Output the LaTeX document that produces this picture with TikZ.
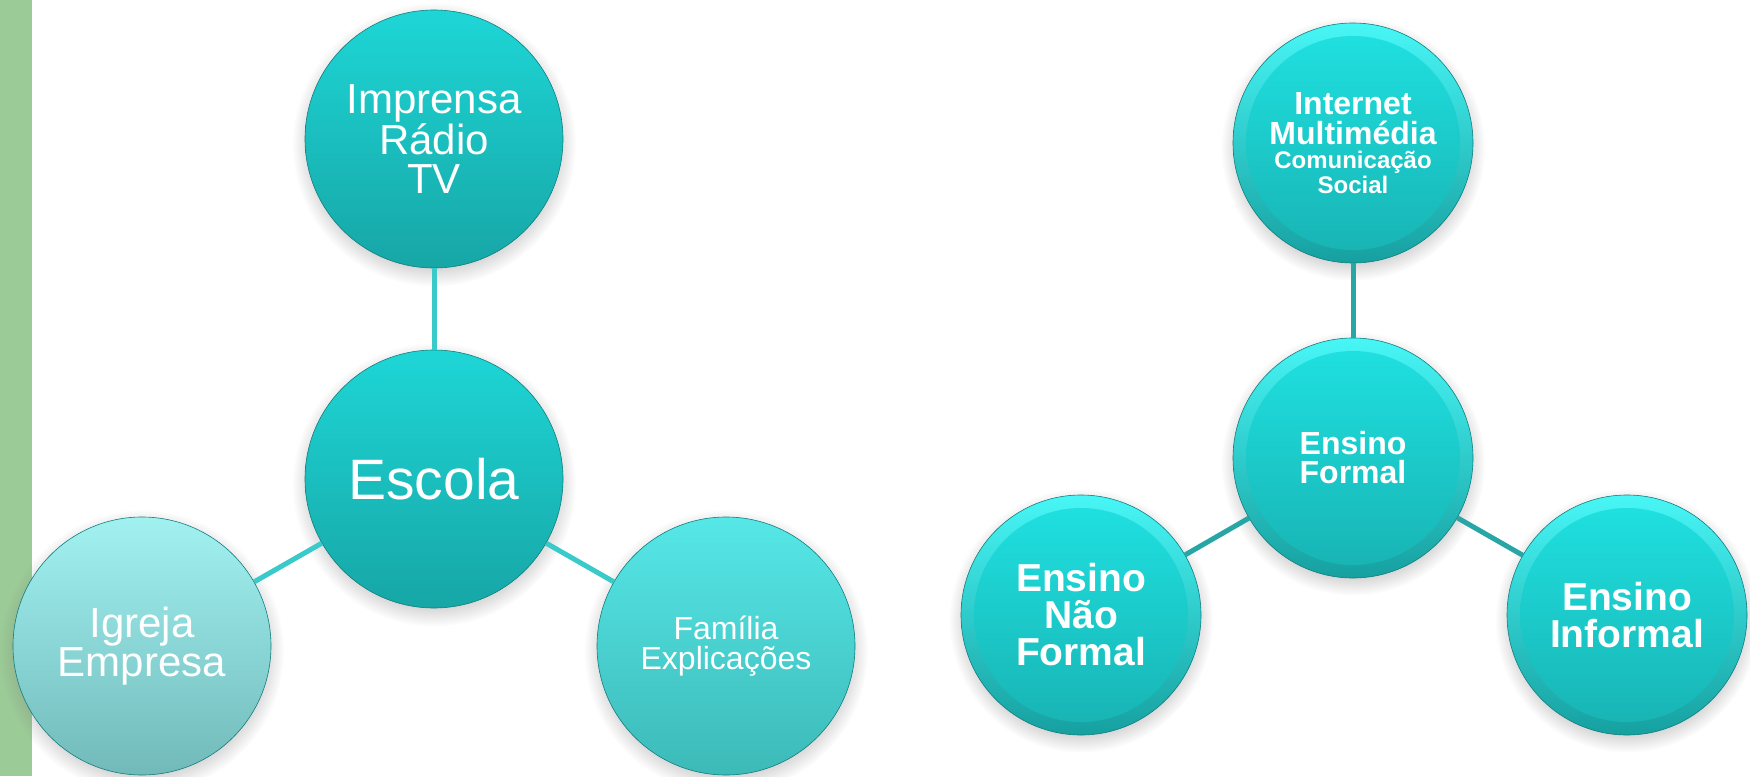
\documentclass[tikz,border=0pt]{standalone}
\usepackage{fontspec}
\setmainfont{Liberation Sans}
\usetikzlibrary{positioning,shadows,fadings}

\definecolor{stripgreen}{RGB}{155,203,150}
\definecolor{tealtop}{RGB}{30,214,214}
\definecolor{tealbot}{RGB}{23,166,166}
\definecolor{paletop}{RGB}{162,241,241}
\definecolor{palebot}{RGB}{114,186,186}
\definecolor{midtop}{RGB}{86,231,231}
\definecolor{midbot}{RGB}{60,186,184}
\definecolor{cyantop}{RGB}{32,226,226}
\definecolor{cyanbot}{RGB}{24,178,178}
\definecolor{rimtop}{RGB}{72,246,246}
\definecolor{rimbot}{RGB}{22,160,160}
\definecolor{linkleft}{RGB}{58,202,202}
\definecolor{linkright}{RGB}{40,166,166}

\begin{document}
\begin{tikzpicture}[x=1pt,y=-1pt,on grid,
		bubble/.style={circle,inner sep=0pt,minimum size=258pt,text=white,align=center,
			draw=tealbot!75!black,line width=.6pt,
			circular drop shadow={shadow xshift=0pt,shadow yshift=-5pt,opacity=.35}},
		deep/.style={bubble,top color=tealtop,bottom color=tealbot},
		pale/.style={bubble,top color=paletop,bottom color=palebot},
		mid/.style={bubble,top color=midtop,bottom color=midbot},
		disc/.style={bubble,minimum size=240pt,top color=rimtop,bottom color=rimbot,
			path picture={\shade[top color=cyantop,bottom color=cyanbot]
				(path picture bounding box.center) circle[radius=107pt];}},
		link/.style={line width=5pt}]
	\useasboundingbox (0,0) rectangle (1750,776);
	\fill[stripgreen] (0,0) rectangle (32,776);

	% Escola e agentes
	\node[deep,font=\fontsize{57}{60}\selectfont] (escola) at (434,479) {Escola};
	\node[deep,font=\fontsize{42}{39}\selectfont] [above=340pt of escola] (imprensa) {Imprensa\\Rádio\\TV};
	\node[pale,font=\fontsize{42}{39}\selectfont] [below left=167pt and 292pt of escola] (igreja) {Igreja\\Empresa};
	\node[mid,font=\fontsize{32}{30}\selectfont] [below right=167pt and 292pt of escola] (familia) {Família\\Explicações};
	\path[link,draw=linkleft]
		(escola) edge (imprensa)
		(escola) edge (igreja)
		(escola) edge (familia);

	% tipos de ensino
	\node[disc,font=\fontsize{32}{29}\selectfont\bfseries] (formal) at (1353,458) {Ensino\\Formal};
	\node[disc,font=\fontsize{32}{30}\selectfont\bfseries] [above=315pt of formal] (internet)
		{Internet\\Multimédia\\[-6pt]{\fontsize{24}{24}\selectfont Comunicação}\\[-5pt]{\fontsize{24}{24}\selectfont Social}};
	\node[disc,font=\fontsize{39}{37}\selectfont\bfseries] [below left=157pt and 272pt of formal] (naoformal) {Ensino\\Não\\Formal};
	\node[disc,font=\fontsize{39}{37}\selectfont\bfseries] [below right=157pt and 274pt of formal] (informal) {Ensino\\Informal};
	\path[link,draw=linkright]
		(formal) edge (internet)
		(formal) edge (naoformal)
		(formal) edge (informal);
\end{tikzpicture}
\end{document}
